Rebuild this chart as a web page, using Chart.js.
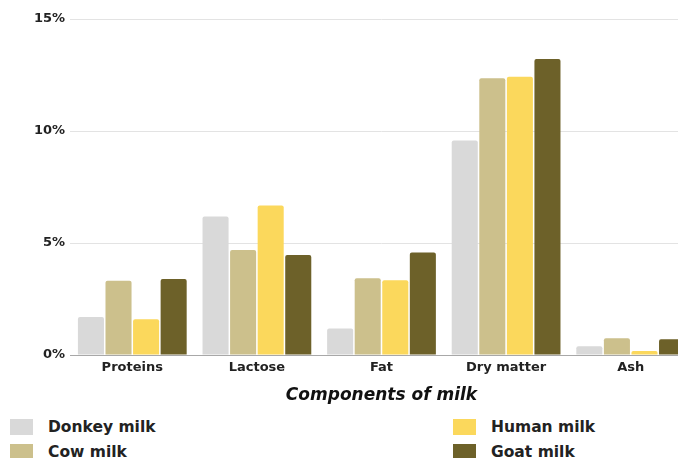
<!DOCTYPE html>
<html>
<head>
<meta charset="utf-8">
<script src="https://cdn.jsdelivr.net/npm/chart.js@4.4.1/dist/chart.umd.min.js"></script>
<style>
    html, body { margin: 0; padding: 0; background: #fff; }
    #wrap { position: relative; width: 678px; height: 458px; overflow: hidden; font-family: 'DejaVu Sans', sans-serif; }
    #chart-box { position: absolute; left: 0; top: 0; width: 700px; height: 410px; }
    .legend-col { position: absolute; top: 414px; }
    .legend-item { display: flex; align-items: center; height: 25px; font-weight: 700; font-size: 15.5px; color: #222; }
    .legend-item span.sw { display: inline-block; width: 23px; height: 16px; margin-right: 15px; }
</style>
</head>
<body>
<div id="wrap">
    <div id="chart-box"><canvas id="milk-chart" width="700" height="410"></canvas></div>
    <div class="legend-col" id="legend-left" style="left:10px"></div>
    <div class="legend-col" id="legend-right" style="left:453px"></div>
</div>
<script>
const components = ['Proteins', 'Lactose', 'Fat', 'Dry matter', 'Ash'];
const donkeyMilk = [1.70, 6.18, 1.18, 9.58, 0.39];
const cowMilk = [3.31, 4.69, 3.43, 12.35, 0.75];
const humanMilk = [1.60, 6.67, 3.34, 12.42, 0.18];
const goatMilk = [3.39, 4.46, 4.58, 13.21, 0.70];

const seriesNames = ['Donkey milk', 'Cow milk', 'Human milk', 'Goat milk'];
const seriesColors = ['#d9d9d9', '#ccc08c', '#fbd85c', '#6d6129'];
const seriesData = [donkeyMilk, cowMilk, humanMilk, goatMilk];

document.addEventListener('DOMContentLoaded', function() {
    const ctx = document.getElementById('milk-chart').getContext('2d');
    const tickFont = { family: "'DejaVu Sans', sans-serif", size: 13, weight: 'bold' };

    const chart = new Chart(ctx, {
        type: 'bar',
        data: {
            labels: components,
            datasets: seriesNames.map((name, i) => ({
                label: name,
                data: seriesData[i],
                backgroundColor: seriesColors[i],
                borderRadius: { topLeft: 2, topRight: 2 },
                borderSkipped: 'bottom',
                categoryPercentage: 0.885,
                barPercentage: 0.945
            }))
        },
        options: {
            responsive: false,
            animation: false,
            layout: { padding: { top: 19, right: 7, bottom: 4, left: 0 } },
            plugins: {
                legend: { display: false },
                tooltip: { enabled: false }
            },
            scales: {
                x: {
                    grid: { display: false, drawTicks: false },
                    border: { display: true, color: '#a8a8a8', width: 1 },
                    ticks: { color: '#222', font: tickFont, padding: 5 },
                    title: {
                        display: true,
                        text: 'Components of milk',
                        color: '#111',
                        font: { family: "'DejaVu Sans', sans-serif", size: 17, weight: 'bold', style: 'italic' },
                        padding: { top: 5, bottom: 0 }
                    }
                },
                y: {
                    min: 0,
                    max: 15,
                    afterFit: (scale) => { scale.width = 70; },
                    grid: { color: '#e3e3e3', drawTicks: false },
                    border: { display: false },
                    ticks: {
                        stepSize: 5,
                        color: '#222',
                        font: tickFont,
                        padding: 5,
                        callback: (v) => v + '%'
                    }
                }
            }
        }
    });

    // legend in two columns, built from the chart's datasets
    const left = document.getElementById('legend-left');
    const right = document.getElementById('legend-right');
    chart.data.datasets.forEach((ds, i) => {
        const item = document.createElement('div');
        item.className = 'legend-item';
        item.innerHTML = '<span class="sw" style="background:' + ds.backgroundColor + '"></span>' + ds.label;
        (i < 2 ? left : right).appendChild(item);
    });
});
</script>
</body>
</html>
